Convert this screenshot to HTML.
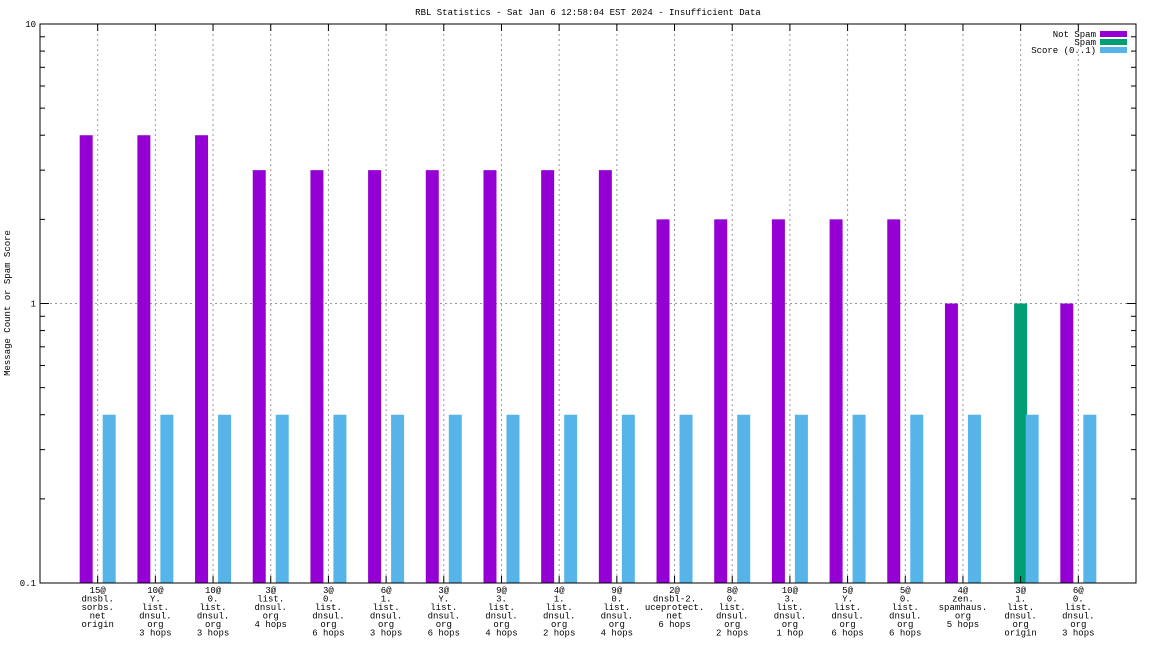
<!DOCTYPE html>
<html><head><meta charset="utf-8"><style>
body{margin:0;background:#fff;}
svg text{font-family:"Liberation Mono","DejaVu Sans Mono",monospace;font-size:9px;fill:#000;}
</style></head><body>
<svg id="chart" width="1152" height="648" xmlns="http://www.w3.org/2000/svg">
<text x="588" y="15" text-anchor="middle">RBL Statistics - Sat Jan  6 12:58:04 EST 2024 - Insufficient Data</text>
<text transform="translate(10,303) rotate(-90)" text-anchor="middle">Message Count or Spam Score</text>
<g id="grid"></g><g id="bars"></g><g id="axes"></g>
<g>
<text x="1096" y="37" text-anchor="end">Not Spam</text>
<rect x="1100" y="31" width="27" height="6" fill="#9400d3"/>
<text x="1096" y="45" text-anchor="end">Spam</text>
<rect x="1100" y="39" width="27" height="6" fill="#009e73"/>
<text x="1096" y="53" text-anchor="end">Score (0..1)</text>
<rect x="1100" y="47" width="27" height="6" fill="#56b4e9"/>
</g>
</svg>
<script>
const categories=[
["15@","dnsbl.","sorbs.","net","origin"],
["10@","Y.","list.","dnsul.","org","3 hops"],
["10@","0.","list.","dnsul.","org","3 hops"],
["3@","list.","dnsul.","org","4 hops"],
["3@","0.","list.","dnsul.","org","6 hops"],
["6@","1.","list.","dnsul.","org","3 hops"],
["3@","Y.","list.","dnsul.","org","6 hops"],
["9@","3.","list.","dnsul.","org","4 hops"],
["4@","1.","list.","dnsul.","org","2 hops"],
["9@","0.","list.","dnsul.","org","4 hops"],
["2@","dnsbl-2.","uceprotect.","net","6 hops"],
["8@","0.","list.","dnsul.","org","2 hops"],
["10@","3.","list.","dnsul.","org","1 hop"],
["5@","Y.","list.","dnsul.","org","6 hops"],
["5@","0.","list.","dnsul.","org","6 hops"],
["4@","zen.","spamhaus.","org","5 hops"],
["3@","1.","list.","dnsul.","org","origin"],
["6@","0.","list.","dnsul.","org","3 hops"]];
const notSpam=[4,4,4,3,3,3,3,3,3,3,2,2,2,2,2,1,0,1];
const spam=[0,0,0,0,0,0,0,0,0,0,0,0,0,0,0,0,1,0];
const score=[0.4,0.4,0.4,0.4,0.4,0.4,0.4,0.4,0.4,0.4,0.4,0.4,0.4,0.4,0.4,0.4,0.4,0.4];
const yTicks=[0.1,1,10];
const yTickLabels=["0.1","1","10"];

const L=40,R=1136,T=24,B=583;
const NS="http://www.w3.org/2000/svg";
const x=i=>L+(i+1)*(R-L)/(categories.length+1);
const y=v=>B-(Math.log10(v)-Math.log10(0.1))/(Math.log10(10)-Math.log10(0.1))*(B-T);
function mk(t,a,p){const e=document.createElementNS(NS,t);for(const k in a)e.setAttribute(k,a[k]);p.appendChild(e);return e;}
const grid=document.getElementById('grid'),bars=document.getElementById('bars'),axes=document.getElementById('axes');
// horizontal grid at 1
yTicks.forEach((v,k)=>{
  if(v>0.1&&v<10){const g=mk('line',{x1:L,x2:R,y1:y(v),y2:y(v),stroke:'#999','stroke-dasharray':'2,3'},grid);
  
  }
  const t=mk('text',{x:L-4,y:y(v)+3,'text-anchor':'end'},axes);t.textContent=yTickLabels[k];
  
  
  mk('line',{x1:L,x2:L+9,y1:y(v),y2:y(v),stroke:'#000'},axes);
  mk('line',{x1:R,x2:R-9,y1:y(v),y2:y(v),stroke:'#000'},axes);
});
for(let d=0.1;d<10;d*=10){for(let m=2;m<10;m++){const yy=y(d*m);
  mk('line',{x1:L,x2:L+5,y1:yy,y2:yy,stroke:'#000'},axes);
  mk('line',{x1:R,x2:R-5,y1:yy,y2:yy,stroke:'#000'},axes);}}
categories.forEach((c,i)=>{
  const cx=x(i);
  const g=mk('line',{x1:cx,x2:cx,y1:T,y2:B,stroke:'#999','stroke-dasharray':'2,3'},grid);
  
  
  mk('line',{x1:cx,x2:cx,y1:T,y2:T+7,stroke:'#000'},axes);
  mk('line',{x1:cx,x2:cx,y1:B,y2:B-7,stroke:'#000'},axes);
  const series=[[notSpam[i],-11.5,'#9400d3','bar-not-spam'],[spam[i],0,'#009e73','bar-spam'],[score[i],11.5,'#56b4e9','bar-score']];
  series.forEach(s=>{if(s[0]>0.1){const r=mk('rect',{x:cx+s[1]-6.5,y:y(s[0]),width:13,height:B-y(s[0]),fill:s[2]},bars);
    
    }});
  c.forEach((ln,k)=>{const t=mk('text',{x:cx,y:B+10+k*8.5,'text-anchor':'middle'},axes);t.textContent=ln;
    
    });
});
const f=mk('rect',{x:L,y:T,width:R-L,height:B-T,fill:'none',stroke:'#000'},axes);


</script>
</body></html>
